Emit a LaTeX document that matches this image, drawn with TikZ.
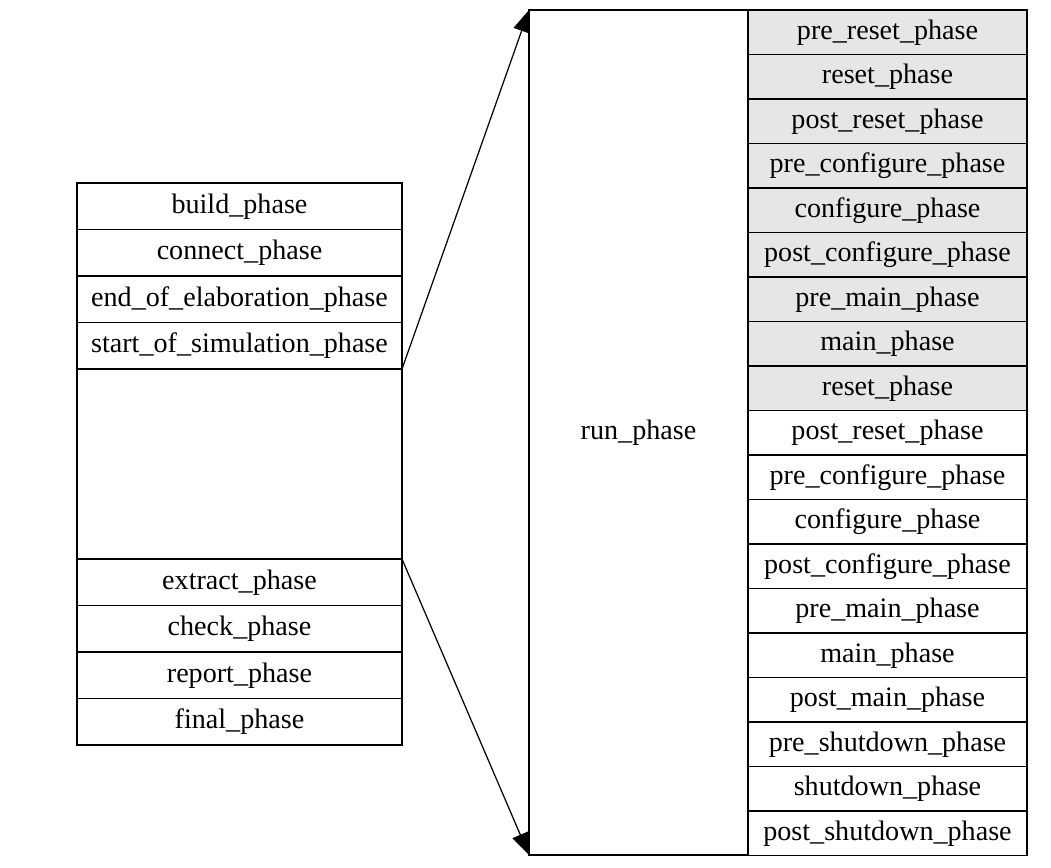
\documentclass[tikz,border=0pt]{standalone}
\usepackage{fontspec}
\setmainfont{Liberation Serif}
\usetikzlibrary{arrows.meta, positioning}
\definecolor{phasegray}{RGB}{230,230,230}

\begin{document}
\begin{tikzpicture}[
    phase/.style={rectangle, draw=black, line width=0.9pt, minimum width=6.5cm,
                  minimum height=0.93cm, inner sep=0pt, outer sep=0pt,
                  font=\fontsize{16}{19}\selectfont},
    subphase/.style={phase, minimum width=5.58cm, minimum height=0.89cm},
    grayphase/.style={subphase, fill=phasegray},
    arrow/.style={-{Triangle[length=4.4mm, width=3.4mm]}, line width=0.7pt},
]
    \useasboundingbox (0,0) rectangle (21.02,-17.34);

    % 左侧：公共 phase
    \node[phase, anchor=north west] (build) at (1.54,-3.66) {build\_phase};
    \node[phase, below=0pt of build] (connect) {connect\_phase};
    \node[phase, below=0pt of connect] (eoe) {end\_of\_elaboration\_phase};
    \node[phase, below=0pt of eoe] (sos) {start\_of\_simulation\_phase};
    \node[phase, below=0pt of sos, minimum height=3.8cm] (blank) {};
    \node[phase, below=0pt of blank] (extract) {extract\_phase};
    \node[phase, below=0pt of extract] (check) {check\_phase};
    \node[phase, below=0pt of check] (report) {report\_phase};
    \node[phase, below=0pt of report] (final) {final\_phase};

    % 右侧：run_phase 及其子 phase
    \node[phase, anchor=north west, minimum width=4.38cm, minimum height=16.9cm]
        (run) at (10.58,-0.2) {run\_phase};
    \node[grayphase, anchor=north west] (prereset) at (run.north east) {pre\_reset\_phase};
    \node[grayphase, below=0pt of prereset] (reset) {reset\_phase};
    \node[grayphase, below=0pt of reset] (postreset) {post\_reset\_phase};
    \node[grayphase, below=0pt of postreset] (precfg) {pre\_configure\_phase};
    \node[grayphase, below=0pt of precfg] (cfg) {configure\_phase};
    \node[grayphase, below=0pt of cfg] (postcfg) {post\_configure\_phase};
    \node[grayphase, below=0pt of postcfg] (premain) {pre\_main\_phase};
    \node[grayphase, below=0pt of premain] (main) {main\_phase};
    \node[grayphase, below=0pt of main] (resetb) {reset\_phase};
    \node[subphase, below=0pt of resetb] (postresetb) {post\_reset\_phase};
    \node[subphase, below=0pt of postresetb] (precfgb) {pre\_configure\_phase};
    \node[subphase, below=0pt of precfgb] (cfgb) {configure\_phase};
    \node[subphase, below=0pt of cfgb] (postcfgb) {post\_configure\_phase};
    \node[subphase, below=0pt of postcfgb] (premainb) {pre\_main\_phase};
    \node[subphase, below=0pt of premainb] (mainb) {main\_phase};
    \node[subphase, below=0pt of mainb] (postmain) {post\_main\_phase};
    \node[subphase, below=0pt of postmain] (preshut) {pre\_shutdown\_phase};
    \node[subphase, below=0pt of preshut] (shut) {shutdown\_phase};
    \node[subphase, below=0pt of shut] (postshut) {post\_shutdown\_phase};

    % Arrows
    \draw[arrow] (sos.south east) -- (run.north west);
    \draw[arrow] (extract.north east) -- (run.south west);
\end{tikzpicture}
\end{document}
